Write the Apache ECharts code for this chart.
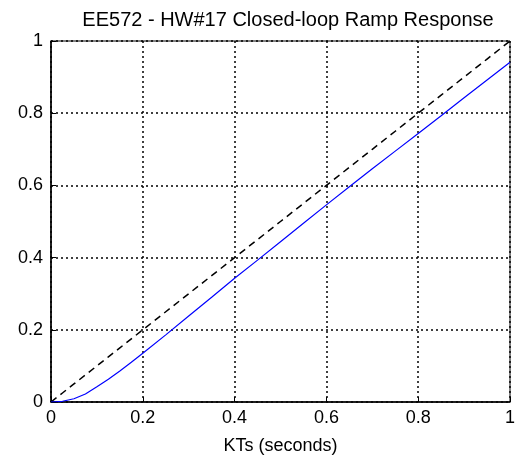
<!DOCTYPE html>
<html>
<head>
<meta charset="utf-8">
<script src="https://cdn.jsdelivr.net/npm/echarts@6/dist/echarts.min.js"></script>
<style>html,body{margin:0;padding:0;background:#fff}#c{width:519px;height:461px}</style>
</head>
<body>
<div id="c"></div>
<script>
var titleText = 'EE572 - HW#17 Closed-loop Ramp Response';
var xName = 'KTs (seconds)';
var times = [0, 0.025, 0.05, 0.075, 0.1, 0.125, 0.15, 0.175, 0.2, 0.25, 0.3, 0.35, 0.4, 0.45, 0.5, 0.55, 0.6, 0.65, 0.7, 0.75, 0.8, 0.85, 0.9, 0.95, 1.0];
var response = [0, 0.002, 0.009, 0.022, 0.042, 0.063, 0.086, 0.11, 0.135, 0.186, 0.238, 0.29, 0.343, 0.393, 0.444, 0.495, 0.546, 0.596, 0.646, 0.695, 0.744, 0.793, 0.843, 0.892, 0.941];
var ramp = [0, 0.025, 0.05, 0.075, 0.1, 0.125, 0.15, 0.175, 0.2, 0.25, 0.3, 0.35, 0.4, 0.45, 0.5, 0.55, 0.6, 0.65, 0.7, 0.75, 0.8, 0.85, 0.9, 0.95, 1.0];

function pairs(xs, ys){ return xs.map(function(x,i){return [x, ys[i]];}); }
var font = 'Liberation Sans, Arial, sans-serif';
var chart = echarts.init(document.getElementById('c'), null, {renderer:'canvas'});
chart.setOption({
  animation: false,
  backgroundColor: '#fff',
  title: {
    text: titleText, left: 283, top: 5, textAlign: 'center',
    textStyle: {fontFamily: font, fontSize: 20, fontWeight: 'normal', color: '#000'}
  },
  grid: {left: 51, right: 9, top: 41, bottom: 59, show: true, borderColor: '#000', borderWidth: 1, backgroundColor: 'transparent'},
  xAxis: {
    type: 'value', min: 0, max: 1, interval: 0.2,
    name: xName, nameLocation: 'middle', nameGap: 35,
    nameTextStyle: {fontFamily: font, fontSize: 18, color: '#000'},
    axisLine: {show: true, lineStyle: {color: '#000', width: 1.5}},
    axisTick: {show: true, inside: true, length: 5, lineStyle: {color: '#000'}},
    axisLabel: {fontFamily: font, fontSize: 18, color: '#000', margin: 7,
      formatter: function(v){ return String(+v.toFixed(1)); }},
    splitLine: {show: true, lineStyle: {color: '#000', type: [2, 3], width: 1.5}}
  },
  yAxis: {
    type: 'value', min: 0, max: 1, interval: 0.2,
    axisLine: {show: true, lineStyle: {color: '#000', width: 1.5}},
    axisTick: {show: true, inside: true, length: 5, lineStyle: {color: '#000'}},
    axisLabel: {fontFamily: font, fontSize: 18, color: '#000', margin: 8,
      formatter: function(v){ return String(+v.toFixed(1)); }},
    splitLine: {show: true, lineStyle: {color: '#000', type: [2, 3], width: 1.5}}
  },
  series: [
    {type: 'line', data: pairs(times, ramp), showSymbol: false, symbol: 'none',
     lineStyle: {color: '#000', width: 1.5, type: [7, 5]}, z: 3},
    {type: 'line', data: pairs(times, response), showSymbol: false, symbol: 'none',
     lineStyle: {color: '#0000ff', width: 1.2}, z: 4}
  ]
});
</script>
</body>
</html>
